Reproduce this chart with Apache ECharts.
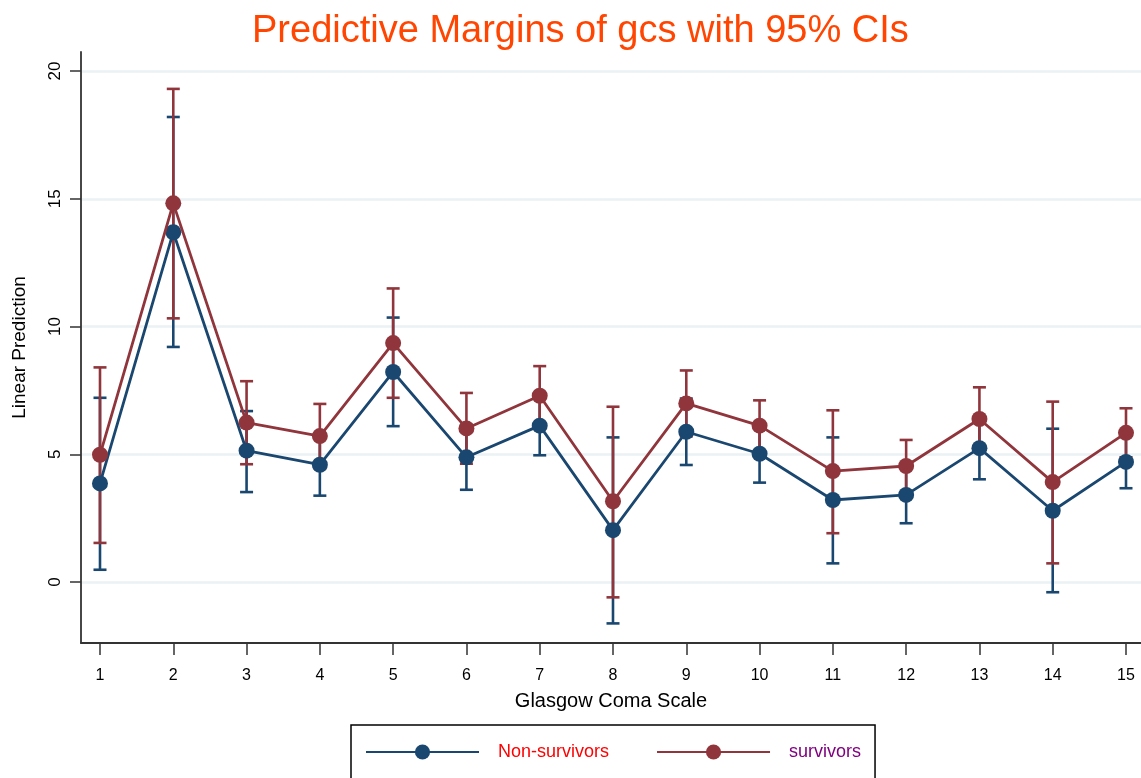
<!DOCTYPE html>
<html>
<head>
<meta charset="utf-8">
<title>Predictive Margins of gcs with 95% CIs</title>
<script src="https://cdn.jsdelivr.net/npm/echarts@6/dist/echarts.min.js"></script>
<style>
  html, body { margin: 0; padding: 0; background: #ffffff; }
  #chart { width: 1141px; height: 778px; }
</style>
</head>
<body>
<div id="chart"></div>
<script>
// Glasgow Coma Scale levels
const gcs = [1, 2, 3, 4, 5, 6, 7, 8, 9, 10, 11, 12, 13, 14, 15];
const yTicks = [0, 5, 10, 15, 20];

// Non-survivors: margin and 95% CI
const nonSurv     = [3.86, 13.69, 5.14, 4.59, 8.22, 4.88, 6.12, 2.03, 5.88, 5.02, 3.21, 3.41, 5.24, 2.79, 4.70];
const nonSurvLow  = [0.48, 9.20, 3.52, 3.38, 6.10, 3.61, 4.96, -1.62, 4.58, 3.89, 0.73, 2.30, 4.02, -0.40, 3.67];
const nonSurvHigh = [7.21, 18.20, 6.69, 5.80, 10.35, 6.15, 7.28, 5.66, 7.18, 6.15, 5.66, 4.52, 6.46, 6.00, 5.73];

// Survivors: margin and 95% CI
const surv     = [4.98, 14.82, 6.24, 5.71, 9.35, 6.01, 7.29, 3.16, 6.99, 6.12, 4.34, 4.54, 6.38, 3.91, 5.84];
const survLow  = [1.53, 10.32, 4.61, 4.45, 7.21, 4.63, 6.13, -0.60, 5.70, 5.13, 1.91, 3.52, 5.14, 0.73, 4.88];
const survHigh = [8.40, 19.30, 7.86, 6.97, 11.49, 7.40, 8.45, 6.86, 8.28, 7.11, 6.72, 5.56, 7.62, 7.06, 6.80];

const BLUE = '#1a476f';
const RED = '#90353b';
const FONT = '"Liberation Sans", Arial, sans-serif';

function pairs(ys) { return gcs.map((g, i) => [g, ys[i]]); }
function ciData(lo, hi) { return gcs.map((g, i) => [g, lo[i], hi[i]]); }

// Vertical capped range bar for each GCS level
function capRenderer(color) {
  return function (params, api) {
    const x = api.value(0);
    const top = api.coord([x, api.value(2)]);
    const bot = api.coord([x, api.value(1)]);
    const half = 6.5;
    const style = { stroke: color, lineWidth: 2.6 };
    return {
      type: 'group',
      children: [
        { type: 'line', shape: { x1: top[0], y1: top[1], x2: bot[0], y2: bot[1] }, style },
        { type: 'line', shape: { x1: top[0] - half, y1: top[1], x2: top[0] + half, y2: top[1] }, style },
        { type: 'line', shape: { x1: bot[0] - half, y1: bot[1], x2: bot[0] + half, y2: bot[1] }, style }
      ]
    };
  };
}

const chart = echarts.init(document.getElementById('chart'), null, { renderer: 'canvas' });

chart.setOption({
  backgroundColor: '#ffffff',
  animation: false,
  title: {
    text: 'Predictive Margins of gcs with 95% CIs',
    left: 247,
    top: 8,
    textStyle: { color: '#ff4500', fontSize: 38, fontWeight: 'normal', fontFamily: FONT }
  },
  grid: { left: 81, right: 0, top: 52, bottom: 135, containLabel: false },
  legend: {
    left: 351,
    top: 725,
    orient: 'horizontal',
    padding: [18, 14, 40, 14],
    borderColor: '#000000',
    borderWidth: 1.5,
    itemWidth: 113,
    itemHeight: 19,
    itemGap: 47,
    textStyle: { fontSize: 18, fontFamily: FONT, padding: [0, 0, 0, 14] },
    data: [
      { name: 'Non-survivors', textStyle: { color: '#ff0000' } },
      { name: 'survivors', textStyle: { color: '#800080' } }
    ]
  },
  xAxis: {
    type: 'value',
    min: 0.7408,
    max: 15.2047,
    name: 'Glasgow Coma Scale',
    nameLocation: 'middle',
    nameGap: 48,
    nameTextStyle: { color: '#000000', fontSize: 20, fontFamily: FONT },
    axisLine: { show: true, onZero: false, lineStyle: { color: '#333333', width: 1.8 } },
    axisTick: { show: true, length: 12, customValues: gcs, lineStyle: { color: '#333333', width: 1.5 } },
    axisLabel: { customValues: gcs, margin: 25, color: '#000000', fontSize: 16, fontFamily: FONT },
    splitLine: { show: false }
  },
  yAxis: {
    type: 'value',
    min: -2.387,
    max: 20.744,
    name: 'Linear Prediction',
    nameLocation: 'middle',
    nameGap: 52,
    nameTextStyle: { color: '#000000', fontSize: 19, fontFamily: FONT },
    axisLine: { show: true, onZero: false, lineStyle: { color: '#333333', width: 1.8 } },
    axisTick: { show: true, length: 11, customValues: yTicks, lineStyle: { color: '#333333', width: 1.5 } },
    axisLabel: { customValues: yTicks, rotate: 90, margin: 17, color: '#000000', fontSize: 17, fontFamily: FONT },
    splitLine: { show: true, lineStyle: { color: '#eaf2f3', width: 2.5 } }
  },
  series: [
    {
      name: 'Non-survivors CI',
      type: 'custom',
      renderItem: capRenderer(BLUE),
      data: ciData(nonSurvLow, nonSurvHigh),
      encode: { x: 0, y: [1, 2] },
      z: 2
    },
    {
      name: 'survivors CI',
      type: 'custom',
      renderItem: capRenderer(RED),
      data: ciData(survLow, survHigh),
      encode: { x: 0, y: [1, 2] },
      z: 3
    },
    {
      name: 'Non-survivors',
      type: 'line',
      data: pairs(nonSurv),
      symbol: 'circle',
      symbolSize: 16,
      itemStyle: { color: BLUE },
      lineStyle: { color: BLUE, width: 2.8 },
      z: 4
    },
    {
      name: 'survivors',
      type: 'line',
      data: pairs(surv),
      symbol: 'circle',
      symbolSize: 16,
      itemStyle: { color: RED },
      lineStyle: { color: RED, width: 2.8 },
      z: 5
    }
  ]
});
</script>
</body>
</html>
